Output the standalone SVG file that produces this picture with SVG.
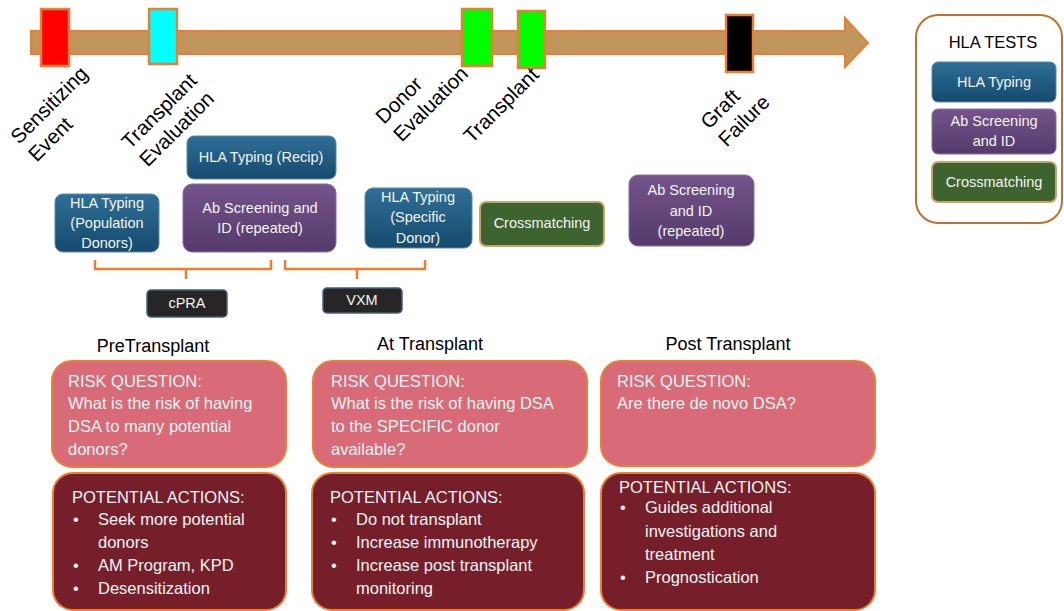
<svg xmlns="http://www.w3.org/2000/svg" width="1064" height="611" viewBox="0 0 1064 611">
<style>
.lbl{font-family:"Liberation Sans",Arial,sans-serif;font-size:20.5px;fill:#000}
.bt{font-family:"Liberation Sans",Arial,sans-serif;font-size:14.5px;fill:#f4f4f4;text-anchor:middle}
.tt{font-family:"Liberation Sans",Arial,sans-serif;font-size:16.5px;fill:#f4f4f4}
.hd{font-family:"Liberation Sans",Arial,sans-serif;font-size:18px;fill:#000;text-anchor:middle}
.mk{stroke:#ed7d31;stroke-width:2.5}
.blue{fill:url(#gBlue);stroke:#5b89ab;stroke-width:1}
.purp{fill:url(#gPurp);stroke:#8a6fa0;stroke-width:1}
.green{fill:#3d632f;stroke:#c9a46a;stroke-width:2}
.dark{fill:#262626;stroke:#41627f;stroke-width:1.5}
.risk{fill:#d86b77;stroke:#ed7d31;stroke-width:2}
.act{fill:#761f2b;stroke:#ed7d31;stroke-width:2}
.br{fill:none;stroke:#ed7d31;stroke-width:2.5}
</style>
<defs>
<linearGradient id="gBlue" x1="0" y1="0" x2="0" y2="1"><stop offset="0" stop-color="#2f6f97"/><stop offset="1" stop-color="#154a6e"/></linearGradient>
<linearGradient id="gPurp" x1="0" y1="0" x2="0" y2="1"><stop offset="0" stop-color="#74548b"/><stop offset="1" stop-color="#553a6c"/></linearGradient>
</defs>
<rect width="1064" height="611" fill="#fff"/>

<g id="timeline">
<polygon points="31,31 845,31 845,18 868,43 845,67 845,54 31,54" fill="#c0965c" stroke="#ed7d31" stroke-width="2"/>
<rect class="mk" x="41" y="9" width="28" height="57" fill="#ff0000"/>
<rect class="mk" x="149" y="9" width="28" height="55" fill="#00ffff"/>
<rect class="mk" x="462" y="9" width="30" height="57" fill="#00ff00"/>
<rect class="mk" x="518" y="11" width="27" height="57" fill="#00ff00"/>
<rect class="mk" x="726" y="15" width="27" height="57" fill="#000000"/>
</g>

<g id="event-labels">
<text class="lbl" transform="translate(19,145) rotate(-45)"><tspan x="0" y="0">Sensitizing</tspan><tspan x="0" y="25">Event</tspan></text>
<text class="lbl" transform="translate(130,150) rotate(-45)"><tspan x="0" y="0">Transplant</tspan><tspan x="0" y="25">Evaluation</tspan></text>
<text class="lbl" transform="translate(384,125) rotate(-45)"><tspan x="0" y="0">Donor</tspan><tspan x="0" y="25">Evaluation</tspan></text>
<text class="lbl" transform="translate(472,144) rotate(-45)"><tspan x="0" y="0">Transplant</tspan></text>
<text class="lbl" transform="translate(709,130) rotate(-45)"><tspan x="0" y="0">Graft</tspan><tspan x="0" y="25">Failure</tspan></text>
</g>

<g id="legend">
<rect x="916" y="15" width="146" height="208" rx="22" fill="#fff" stroke="#c0722a" stroke-width="2"/>
<text class="hd" x="993" y="48" style="font-size:16.5px">HLA TESTS</text>
<g id="legend-typing"><rect class="blue" x="932" y="62" width="124" height="40" rx="6"/><text class="bt" x="994" y="87">HLA Typing</text></g>
<g id="legend-ab"><rect class="purp" x="932" y="109" width="124" height="45" rx="6"/><text class="bt" x="994" y="126">Ab Screening</text><text class="bt" x="994" y="146">and ID</text></g>
<g id="legend-xm"><rect class="green" x="932" y="162" width="124" height="40" rx="6"/><text class="bt" x="994" y="187">Crossmatching</text></g>
</g>

<g id="n-typing-recip"><rect class="blue" x="187" y="136" width="149" height="43" rx="7"/><text class="bt" x="261" y="162">HLA Typing (Recip)</text></g>
<g id="n-ab-pre"><rect class="purp" x="183" y="184" width="153" height="68" rx="9"/><text class="bt" x="260" y="213">Ab Screening and</text><text class="bt" x="260" y="233">ID (repeated)</text></g>
<g id="n-typing-pop"><rect class="blue" x="55" y="194" width="104" height="58" rx="8"/><text class="bt" x="107" y="208">HLA Typing</text><text class="bt" x="107" y="228">(Population</text><text class="bt" x="107" y="248">Donors)</text></g>
<g id="n-typing-spec"><rect class="blue" x="365" y="188" width="107" height="60" rx="8"/><text class="bt" x="418" y="202">HLA Typing</text><text class="bt" x="418" y="222">(Specific</text><text class="bt" x="418" y="243">Donor)</text></g>
<g id="n-xm"><rect class="green" x="480" y="202" width="124" height="44" rx="6"/><text class="bt" x="542" y="228">Crossmatching</text></g>
<g id="n-ab-post"><rect class="purp" x="629" y="175" width="125" height="71" rx="9"/><text class="bt" x="691" y="195">Ab Screening</text><text class="bt" x="691" y="216">and ID</text><text class="bt" x="691" y="236">(repeated)</text></g>

<g id="connectors">
<path class="br" d="M95,260 V269 H271 V260 M186,269 V279"/>
<path class="br" d="M285,260 V269 H425 V260 M357,269 V279"/>
</g>

<g id="n-cpra"><rect class="dark" x="147" y="290" width="80" height="27" rx="4"/><text class="bt" x="187" y="308">cPRA</text></g>
<g id="n-vxm"><rect class="dark" x="323" y="288" width="79" height="25" rx="4"/><text class="bt" x="362" y="305">VXM</text></g>

<g id="headings">
<text class="hd" x="153" y="352">PreTransplant</text>
<text class="hd" x="430" y="350">At Transplant</text>
<text class="hd" x="728" y="350">Post Transplant</text>
</g>

<g id="risk-pre"><rect class="risk" x="52" y="361" width="234" height="106" rx="20"/>
<text class="tt" x="68" y="387">RISK QUESTION:</text>
<text class="tt" x="68" y="409">What is the risk of having</text>
<text class="tt" x="68" y="432">DSA to many potential</text>
<text class="tt" x="68" y="455">donors?</text></g>
<g id="risk-at"><rect class="risk" x="313" y="361" width="274" height="106" rx="20"/>
<text class="tt" x="331" y="387">RISK QUESTION:</text>
<text class="tt" x="331" y="409">What is the risk of having DSA</text>
<text class="tt" x="331" y="432">to the SPECIFIC donor</text>
<text class="tt" x="331" y="455">available?</text></g>
<g id="risk-post"><rect class="risk" x="601" y="361" width="274" height="105" rx="20"/>
<text class="tt" x="617" y="387">RISK QUESTION:</text>
<text class="tt" x="617" y="409">Are there de novo DSA?</text></g>

<g id="act-pre"><rect class="act" x="53" y="473" width="233" height="137" rx="20"/>
<text class="tt" x="72" y="503">POTENTIAL ACTIONS:</text>
<text class="tt" x="73" y="525">•</text><text class="tt" x="98" y="525">Seek more potential</text>
<text class="tt" x="98" y="548">donors</text>
<text class="tt" x="73" y="571">•</text><text class="tt" x="98" y="571">AM Program, KPD</text>
<text class="tt" x="73" y="594">•</text><text class="tt" x="98" y="594">Desensitization</text></g>
<g id="act-at"><rect class="act" x="312" y="473" width="272" height="137" rx="20"/>
<text class="tt" x="330" y="503">POTENTIAL ACTIONS:</text>
<text class="tt" x="331" y="525">•</text><text class="tt" x="356" y="525">Do not transplant</text>
<text class="tt" x="331" y="548">•</text><text class="tt" x="356" y="548">Increase immunotherapy</text>
<text class="tt" x="331" y="571">•</text><text class="tt" x="356" y="571">Increase post transplant</text>
<text class="tt" x="356" y="594">monitoring</text></g>
<g id="act-post"><rect class="act" x="601" y="473" width="274" height="137" rx="20"/>
<text class="tt" x="619" y="493">POTENTIAL ACTIONS:</text>
<text class="tt" x="620" y="513">•</text><text class="tt" x="645" y="513">Guides additional</text>
<text class="tt" x="645" y="537">investigations and</text>
<text class="tt" x="645" y="560">treatment</text>
<text class="tt" x="620" y="583">•</text><text class="tt" x="645" y="583">Prognostication</text></g>
</svg>
